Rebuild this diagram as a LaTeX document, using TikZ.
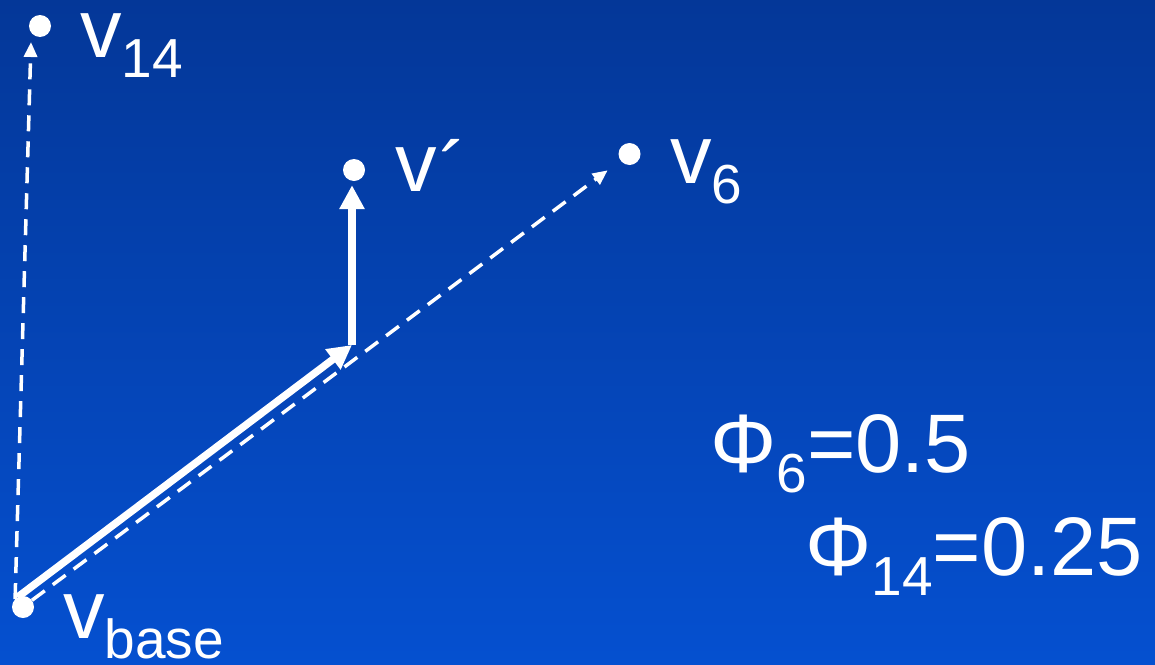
\documentclass[tikz,border=0pt]{standalone}
\usepackage{fontspec}
\setmainfont{Liberation Sans}
\usetikzlibrary{arrows.meta}
\definecolor{bgtop}{RGB}{4,55,152}
\definecolor{bgbot}{RGB}{5,80,208}
\newcommand\sbx[1]{\raisebox{-20pt}{\fontsize{55}{60}\selectfont #1}}
\begin{document}
\begin{tikzpicture}[x=1pt,y=-1pt,
  dot/.style={circle,fill=white,inner sep=0pt,minimum size=22pt},
  lbl/.style={anchor=base west,inner sep=0pt,text=white,font=\fontsize{83}{90}\selectfont},
  solidarrow/.style={white,line width=7.5pt,-{Triangle[length=24pt,width=24pt]}},
  dasharrow/.style={white,line width=3.5pt,dash pattern=on 16pt off 10pt,-{Triangle[length=15pt,width=13pt]}}]
\shade[top color=bgtop,bottom color=bgbot] (0,0) rectangle (1155,664);
\useasboundingbox (0,0) rectangle (1155,664);
% points
\node[dot] (d14) at (40,26) {};
\node[dot] (dp) at (354,170) {};
\node[dot] (d6) at (629.5,154) {};
\node[dot] (db) at (23,607) {};
\coordinate (tip14) at (31,42);
\coordinate (bend) at (352,345);
% labels
\node[lbl] (l14) at (80,57) {v\sbx{14}};
\node[lbl] (lp) at (395,191) {v\kern3pt\raisebox{-9pt}{´}};
\node[lbl] (l6) at (670,183) {v\sbx{6}};
\node[lbl] (lb) at (63,638) {v\sbx{base}};
\node[lbl] (phi6) at (710,472) {Φ\sbx{6}=0.5};
\node[lbl] (phi14) at (805,575) {Φ\sbx{14}=0.25};
% connectors
\draw[dasharrow] (db.135) -- (tip14);
\draw[dasharrow,shorten >=16pt] (db) -- (d6);
\draw[solidarrow] (db.120) -- (bend);
\draw[solidarrow,shorten >=4pt,line cap=butt] (bend) -- (bend |- dp.south);
\end{tikzpicture}
\end{document}
